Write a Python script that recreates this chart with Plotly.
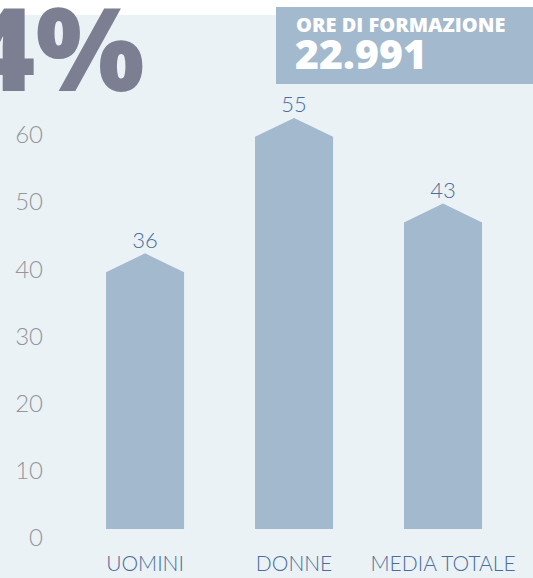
import plotly.graph_objects as go

# ---- data ----
categories = ["UOMINI", "DONNE", "MEDIA TOTALE"]
values = [36, 55, 43]
y_ticks = [0, 10, 20, 30, 40, 50, 60]
headline = "4%"
box_title = "ORE DI FORMAZIONE"
box_value = "22.991"

# ---- style ----
BG = "#EAF2F6"
BAR = "#A3B9CE"
HEAD = "#7C7F92"
BLUE_TXT = "#4A6D9C"
GREY_TXT = "#93969A"

W, H = 533, 578
L, R, T, B = 50, 0, 20, 40
pw, ph = W - L - R, H - T - B


def px_x(p):
    return (p - L) / pw


def px_y(p):
    return (H - B - p) / ph


hw = 0.262   # half bar width (x units)
tri = 2.66   # height of the roof (y2 units)

fig = go.Figure()

# invisible trace so the left value axis (y) is drawn with its tick labels
fig.add_trace(go.Scatter(
    x=[0] * len(y_ticks), y=y_ticks, mode="markers",
    marker=dict(opacity=0), hoverinfo="skip", showlegend=False,
))

for i, v in enumerate(values):
    fig.add_trace(go.Scatter(
        x=[i - hw, i - hw, i, i + hw, i + hw, i - hw],
        y=[0, v, v + tri, v, 0, 0],
        fill="toself", fillcolor=BAR, mode="lines",
        line=dict(width=0, color=BAR), yaxis="y2",
        hoverinfo="skip", showlegend=False,
    ))

fig.add_trace(go.Scatter(
    x=list(range(len(values))), y=[v + tri for v in values],
    text=[str(v) for v in values], mode="text", textposition="top center",
    textfont=dict(family="Lato", size=22, color=BLUE_TXT, weight=300),
    yaxis="y2", cliponaxis=False, showlegend=False, hoverinfo="skip",
))

fig.update_layout(
    width=W, height=H,
    margin=dict(l=L, r=R, t=T, b=B),
    paper_bgcolor=BG, plot_bgcolor=BG,
    showlegend=False,
    xaxis=dict(
        range=[-0.638, 2.604], tickvals=list(range(len(categories))),
        ticktext=categories, showgrid=False, zeroline=False, showline=False,
        ticks="", ticklabelstandoff=11,
        tickfont=dict(family="Lato", size=21, color=BLUE_TXT, weight=300),
    ),
    yaxis=dict(
        range=[0, 77.08], tickvals=y_ticks, showgrid=False, zeroline=False,
        showline=False, ticks="", ticklabelstandoff=6,
        tickfont=dict(family="Lato", size=24, color=GREY_TXT, weight=300),
    ),
    yaxis2=dict(range=[-1.262, 71.39], overlaying="y", visible=False),
    shapes=[
        dict(type="rect", xref="paper", yref="paper",
             x0=px_x(0), x1=1, y0=px_y(15), y1=px_y(0),
             fillcolor="white", line=dict(width=0), layer="below"),
        dict(type="rect", xref="paper", yref="paper",
             x0=px_x(276), x1=1, y0=px_y(84), y1=px_y(7),
             fillcolor=BAR, line=dict(width=0), layer="above"),
    ],
    annotations=[
        dict(text=headline, xref="paper", yref="paper",
             x=px_x(146), y=px_y(46), xanchor="right", yanchor="middle",
             showarrow=False,
             font=dict(family="Open Sans", size=115, color=HEAD, weight=800)),
        dict(text=box_title, xref="paper", yref="paper",
             x=px_x(294), y=px_y(25), xanchor="left", yanchor="middle",
             showarrow=False,
             font=dict(family="Open Sans", size=20, color="white", weight=800)),
        dict(text=box_value, xref="paper", yref="paper",
             x=px_x(293), y=px_y(53), xanchor="left", yanchor="middle",
             showarrow=False,
             font=dict(family="Open Sans", size=41, color="white", weight=800)),
    ],
)

fig.write_html("out.html", config={"displayModeBar": False},
               post_script="document.body.style.margin='0';")
